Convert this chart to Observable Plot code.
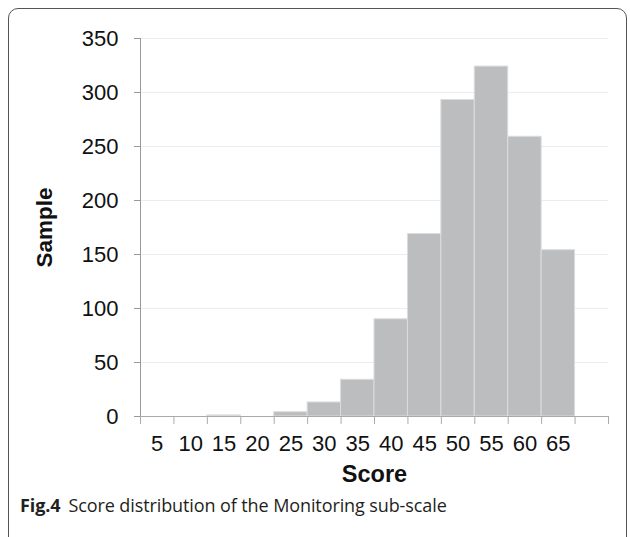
<!DOCTYPE html>
<html>
<head>
<meta charset="utf-8">
<script src="https://cdn.jsdelivr.net/npm/d3@7"></script>
<script src="https://cdn.jsdelivr.net/npm/@observablehq/plot@0.6"></script>
<style>
  html, body { margin: 0; padding: 0; background: #fff; }
  #wrap { position: relative; width: 630px; height: 537px; overflow: hidden; background: #fff; }
  #frame { position: absolute; left: 8px; top: 8px; width: 619px; height: 560px; border: 1px solid #555; border-radius: 10px; box-sizing: border-box; }
  #chart { position: absolute; left: 0; top: 0; }
  #caption { position: absolute; left: 20px; top: 493px; font-family: "Open Sans", "Noto Sans", sans-serif; font-size: 18px; color: #231f20; white-space: nowrap; letter-spacing: -0.1px; }
  #caption b { font-weight: 700; margin-right: 8px; }
</style>
</head>
<body>
<div id="wrap">
  <div id="frame"></div>
  <div id="chart"></div>
  <div id="caption"><b>Fig.4</b>Score distribution of the Monitoring sub-scale</div>
</div>
<script>
// Score bins (bin centers) and sample counts
const scores = [5, 10, 15, 20, 25, 30, 35, 40, 45, 50, 55, 60, 65];
const samples = [0, 0, 1, 0, 4, 13, 34, 90, 169, 293, 324, 259, 154];
const yTicks = [0, 50, 100, 150, 200, 250, 300, 350];
const binWidth = 5;
const xDomain = [2.5, 72.5];
const binEdges = d3.range(xDomain[0], xDomain[1] + 0.1, binWidth);

const data = scores.map((s, i) => ({score: s, sample: samples[i]}));
const font = "'Liberation Sans', Arial, sans-serif";

const chart = Plot.plot({
  width: 630,
  height: 495,
  marginLeft: 140,
  marginRight: 22,
  marginTop: 38,
  marginBottom: 79,
  style: {fontFamily: font, background: "transparent", color: "#111"},
  x: {domain: xDomain},
  y: {domain: [0, 350]},
  marks: [
    Plot.gridY(yTicks, {stroke: "#ececec", strokeOpacity: 1}),
    Plot.rectY(data, {
      x1: d => d.score - binWidth / 2,
      x2: d => d.score + binWidth / 2,
      y: "sample",
      fill: "#bcbdbf",
      stroke: "#dcdcde",
      strokeWidth: 1
    }),
    Plot.ruleX([xDomain[0]], {stroke: "#999"}),
    Plot.ruleY([0], {stroke: "#aaa"}),
    Plot.axisY(yTicks, {tickSize: 6, tickPadding: 16, fontSize: 22, stroke: "#999", label: null}),
    Plot.axisY({ticks: [], tickSize: 0, label: "Sample", labelAnchor: "center", labelArrow: "none", labelOffset: 104, fontSize: 22.5, fontWeight: "bold"}),
    Plot.axisX(binEdges, {tickSize: 8, tickFormat: () => "", stroke: "#aaa", label: null}),
    Plot.axisX(scores, {tickSize: 0, tickPadding: 19, fontSize: 22, label: null}),
    Plot.text(["Score"], {frameAnchor: "bottom", dy: 65, fontSize: 23.5, fontWeight: "bold"})
  ]
});
document.getElementById("chart").appendChild(chart);
</script>
</body>
</html>
